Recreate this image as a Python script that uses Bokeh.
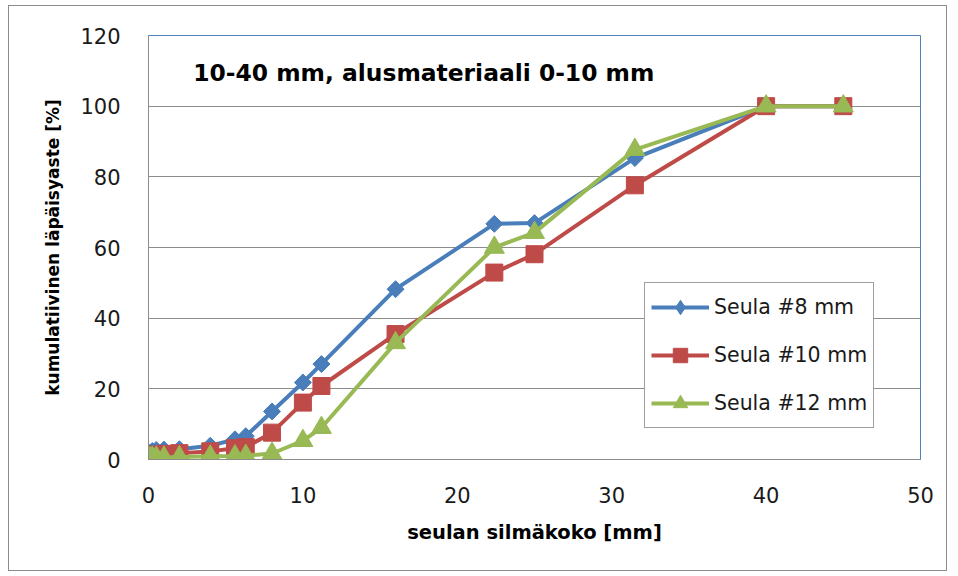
from bokeh.plotting import figure
from bokeh.models import Range1d, FixedTicker, Legend, LegendItem, Label
from bokeh.embed import file_html
from bokeh.resources import INLINE

# Sieve openings [mm] and cumulative passing [%] for each sieve series
sizes = [0.063, 0.125, 0.25, 0.5, 1, 2, 4, 5.6, 6.3, 8, 10, 11.2, 16, 22.4, 25, 31.5, 40, 45]
seula8 = [1.5, 2.0, 2.4, 2.7, 2.8, 2.9, 3.9, 5.7, 6.6, 13.6, 21.8, 27.0, 48.2, 66.7, 66.9, 85.3, 100, 100]
seula10 = [0.8, 1.0, 1.2, 1.4, 1.6, 1.8, 2.3, 3.2, 3.5, 7.6, 16.1, 20.8, 35.5, 52.9, 58.1, 77.6, 100, 100]
seula12 = [0.3, 0.4, 0.5, 0.6, 0.6, 0.7, 0.9, 1.0, 1.1, 1.7, 5.3, 9.0, 33.0, 60.0, 64.2, 87.7, 100, 100]

series_names = ["Seula #8 mm", "Seula #10 mm", "Seula #12 mm"]
x_ticks = [0, 10, 20, 30, 40, 50]
y_ticks = [0, 20, 40, 60, 80, 100, 120]
chart_title = "10-40 mm, alusmateriaali 0-10 mm"
x_title = "seulan silmäkoko [mm]"
y_title = "kumulatiivinen läpäisyaste [%]"

FONT = "DejaVu Sans"
BLUE = "#4A7EBB"
RED = "#BE4B48"
GREEN = "#98B954"
GRID = "#8C8C8C"

p = figure(width=939, height=566, output_backend="svg", toolbar_location=None,
           x_range=Range1d(0, 50), y_range=Range1d(0, 120),
           min_border_left=139, min_border_right=28, min_border_top=29,
           min_border_bottom=113)
p.margin = (5, 0, 0, 8)
p.styles = {"border": "1px solid #8C8C8C"}

p.background_fill_color = "white"
p.border_fill_color = "white"
p.outline_line_color = "#4F81BD"
p.outline_line_width = 1

p.xgrid.grid_line_color = None
p.ygrid.grid_line_color = GRID
p.ygrid.grid_line_width = 1

p.xaxis.ticker = FixedTicker(ticks=x_ticks)
p.yaxis.ticker = FixedTicker(ticks=y_ticks)
for ax in (p.xaxis, p.yaxis):
    ax.axis_line_color = GRID
    ax.major_tick_line_color = None
    ax.minor_tick_line_color = None
    ax.major_label_text_font = FONT
    ax.major_label_text_font_size = "21px"
    ax.major_label_text_color = "#1A1A1A"
    ax.axis_label_text_font = FONT
    ax.axis_label_text_font_style = "bold"
    ax.axis_label_text_color = "#000000"

p.xaxis.axis_label = x_title
p.yaxis.axis_label = y_title
p.xaxis.axis_label_text_font_size = "19.5px"
p.yaxis.axis_label_text_font_size = "17px"
p.xaxis.major_label_standoff = 21
p.yaxis.major_label_standoff = 22
p.xaxis.axis_label_standoff = 15
p.yaxis.axis_label_standoff = 14

renderers = []
# blue diamonds (rotated squares), red squares, green triangles
specs = [
    (seula8, BLUE, "square", 12, 45, "diamond", 16),
    (seula10, RED, "square", 17, 0, "square", 17),
    (seula12, GREEN, "triangle", 20, 0, "triangle", 18),
]
for vals, col, marker, size, ang, key_marker, key_size in specs:
    ln = p.line(sizes, vals, line_color=col, line_width=4)
    p.scatter(sizes, vals, marker=marker, size=size, angle=ang, angle_units="deg",
              fill_color=col, line_color=col)
    # off-range renderer that only supplies the legend key symbol
    key = p.scatter([-10], [-10], marker=key_marker, size=key_size,
                    fill_color=col, line_color=col)
    renderers.append([ln, key])

legend = Legend(items=[LegendItem(label=n, renderers=r) for n, r in zip(series_names, renderers)],
                location=(496, 31))
legend.border_line_color = "#404040"
legend.border_line_width = 1
legend.background_fill_color = "white"
legend.background_fill_alpha = 1
legend.padding = 6
legend.margin = 0
legend.spacing = 12
legend.label_height = 36
legend.glyph_height = 36
legend.glyph_width = 58
legend.label_standoff = 5
legend.label_text_font = FONT
legend.label_text_font_size = "20.5px"
legend.label_text_color = "#1A1A1A"
p.add_layout(legend)

p.add_layout(Label(x=2.9, y=109.3, text=chart_title, text_font=FONT, text_font_style="bold",
                   text_font_size="23.4px", text_baseline="middle", text_color="#000000"))

open("out.html", "w").write(file_html(p, INLINE))
